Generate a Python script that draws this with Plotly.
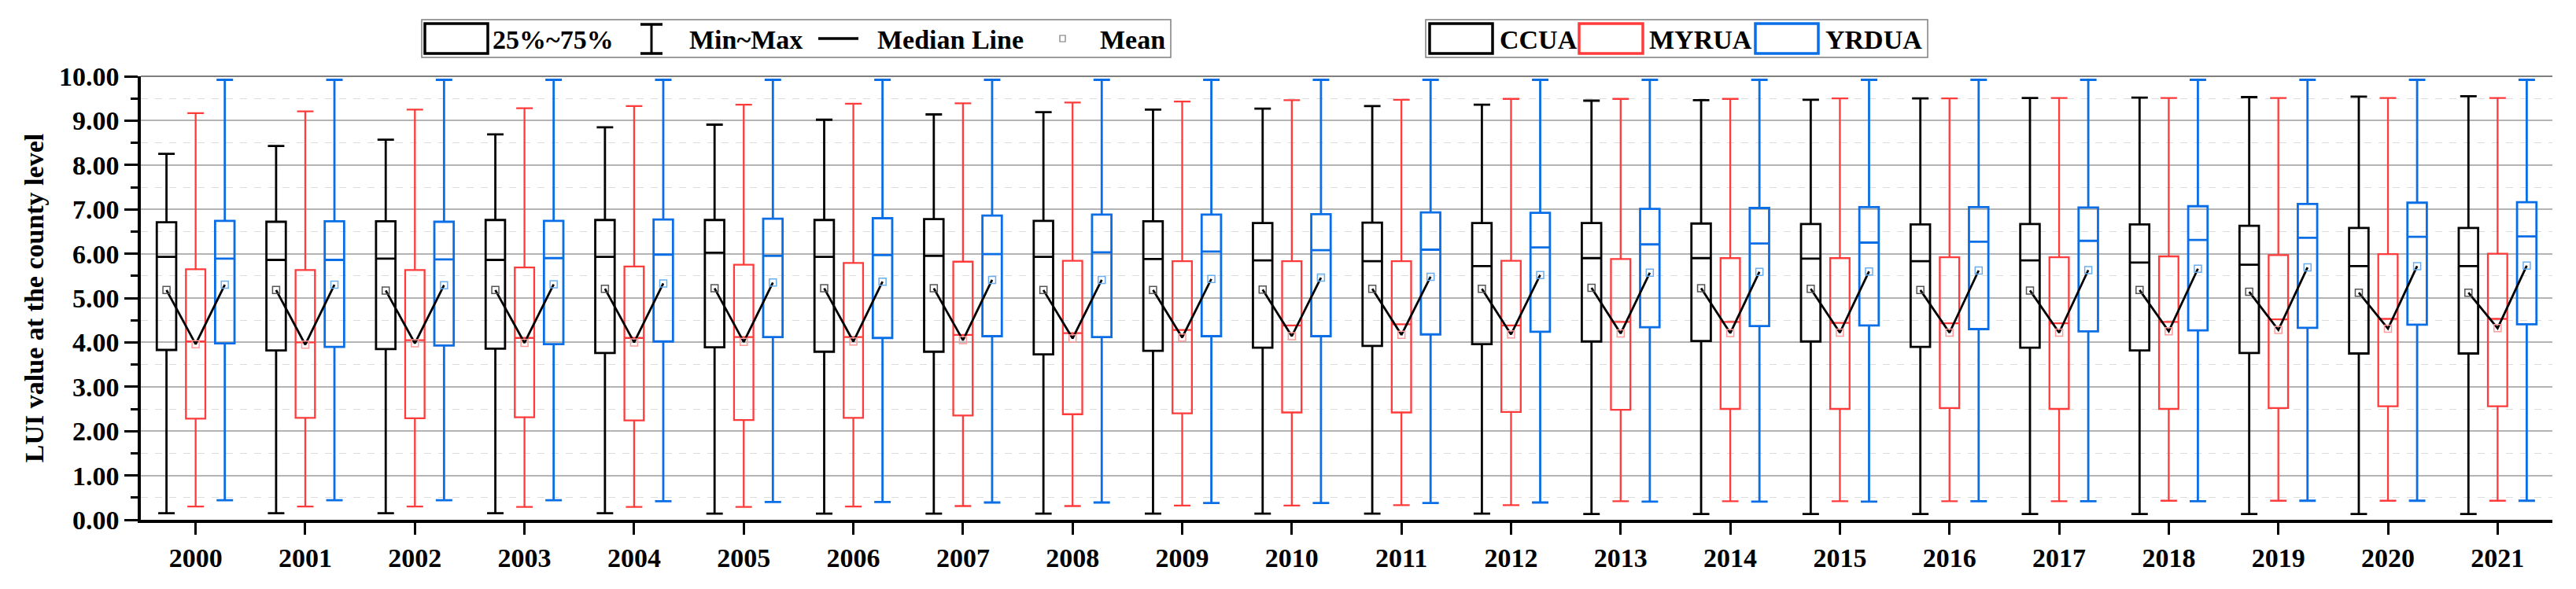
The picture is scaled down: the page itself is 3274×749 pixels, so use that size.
import plotly.graph_objects as go

years = [str(y) for y in range(2000, 2022)]
series_names = ["CCUA", "MYRUA", "YRDUA"]

ccua_max = [8.25, 8.43, 8.57, 8.69, 8.85, 8.91, 9.02, 9.14, 9.19, 9.25, 9.27, 9.33, 9.36, 9.45, 9.46, 9.47, 9.50, 9.51, 9.52, 9.53, 9.54, 9.55]
ccua_q3 = [6.71, 6.72, 6.73, 6.76, 6.76, 6.76, 6.76, 6.78, 6.74, 6.73, 6.69, 6.70, 6.69, 6.69, 6.68, 6.67, 6.66, 6.67, 6.66, 6.63, 6.58, 6.58]
ccua_med = [5.93, 5.86, 5.89, 5.86, 5.93, 6.02, 5.93, 5.95, 5.93, 5.88, 5.85, 5.83, 5.72, 5.90, 5.90, 5.89, 5.83, 5.85, 5.80, 5.75, 5.72, 5.72]
ccua_q1 = [3.83, 3.82, 3.85, 3.86, 3.76, 3.89, 3.79, 3.79, 3.73, 3.81, 3.88, 3.92, 3.96, 4.02, 4.03, 4.02, 3.90, 3.88, 3.82, 3.76, 3.75, 3.75]
ccua_min = [0.15, 0.15, 0.15, 0.15, 0.15, 0.14, 0.14, 0.14, 0.14, 0.14, 0.14, 0.14, 0.14, 0.13, 0.13, 0.13, 0.13, 0.13, 0.13, 0.13, 0.13, 0.13]
ccua_mean = [5.18, 5.18, 5.17, 5.18, 5.21, 5.22, 5.22, 5.22, 5.18, 5.18, 5.19, 5.21, 5.21, 5.23, 5.22, 5.21, 5.18, 5.17, 5.18, 5.14, 5.12, 5.12]

myrua_max = [9.17, 9.21, 9.25, 9.28, 9.33, 9.36, 9.38, 9.39, 9.41, 9.43, 9.46, 9.47, 9.49, 9.49, 9.49, 9.50, 9.50, 9.51, 9.51, 9.51, 9.51, 9.51]
myrua_q3 = [5.65, 5.63, 5.63, 5.69, 5.71, 5.75, 5.79, 5.82, 5.84, 5.83, 5.83, 5.83, 5.84, 5.88, 5.90, 5.90, 5.92, 5.92, 5.94, 5.97, 5.99, 6.00]
myrua_med = [4.02, 4.00, 4.05, 4.10, 4.10, 4.12, 4.12, 4.17, 4.21, 4.28, 4.38, 4.41, 4.38, 4.46, 4.46, 4.44, 4.43, 4.43, 4.46, 4.52, 4.53, 4.53]
myrua_q1 = [2.28, 2.30, 2.29, 2.31, 2.24, 2.25, 2.30, 2.35, 2.38, 2.40, 2.42, 2.42, 2.43, 2.48, 2.50, 2.50, 2.52, 2.50, 2.50, 2.52, 2.56, 2.56]
myrua_min = [0.30, 0.30, 0.30, 0.29, 0.29, 0.29, 0.30, 0.31, 0.31, 0.32, 0.32, 0.33, 0.33, 0.42, 0.42, 0.42, 0.42, 0.42, 0.43, 0.43, 0.43, 0.43]
myrua_mean = [3.96, 3.95, 3.98, 3.99, 4.00, 4.01, 4.02, 4.05, 4.09, 4.11, 4.14, 4.17, 4.18, 4.20, 4.21, 4.22, 4.22, 4.22, 4.25, 4.28, 4.31, 4.32]

yrdua_max = [9.92] * 22
yrdua_q3 = [6.74, 6.73, 6.72, 6.74, 6.77, 6.79, 6.80, 6.86, 6.88, 6.88, 6.89, 6.93, 6.92, 7.01, 7.03, 7.05, 7.05, 7.04, 7.07, 7.12, 7.15, 7.16]
yrdua_med = [5.89, 5.86, 5.87, 5.90, 5.98, 5.95, 5.97, 5.99, 6.03, 6.05, 6.08, 6.09, 6.14, 6.21, 6.23, 6.25, 6.27, 6.29, 6.31, 6.36, 6.38, 6.39]
yrdua_q1 = [3.98, 3.90, 3.93, 3.96, 4.02, 4.12, 4.10, 4.14, 4.12, 4.14, 4.14, 4.18, 4.24, 4.34, 4.37, 4.38, 4.30, 4.25, 4.27, 4.33, 4.40, 4.41]
yrdua_min = [0.44, 0.44, 0.44, 0.44, 0.42, 0.40, 0.40, 0.39, 0.39, 0.38, 0.38, 0.38, 0.39, 0.41, 0.41, 0.41, 0.42, 0.42, 0.42, 0.43, 0.43, 0.43]
yrdua_mean = [5.30, 5.30, 5.29, 5.31, 5.33, 5.35, 5.37, 5.41, 5.41, 5.43, 5.46, 5.48, 5.52, 5.57, 5.59, 5.60, 5.62, 5.63, 5.66, 5.69, 5.72, 5.73]

y_ticks = [f"{v:.2f}" for v in range(0, 11)]

FONT = "Liberation Serif, Times New Roman, serif"
COLORS = ["#000000", "#FF3B3B", "#0A6EE6"]
MEAN_COLORS = ["#555555", "#FF9A9A", "#6AAEF0"]
LINE_W = [2.8, 2.3, 2.8]
OFFSETS = [-0.266, 0.0, 0.266]
BOX_W = 0.177

stats = [
    (ccua_min, ccua_q1, ccua_med, ccua_q3, ccua_max, ccua_mean),
    (myrua_min, myrua_q1, myrua_med, myrua_q3, myrua_max, myrua_mean),
    (yrdua_min, yrdua_q1, yrdua_med, yrdua_q3, yrdua_max, yrdua_mean),
]

idx = list(range(len(years)))
fig = go.Figure()

for s, (lo, q1, med, q3, hi, mn) in enumerate(stats):
    xs = [i + OFFSETS[s] for i in idx]
    fig.add_trace(go.Box(
        x=xs, lowerfence=lo, q1=q1, median=med, q3=q3, upperfence=hi,
        name=series_names[s], width=BOX_W, whiskerwidth=0.85,
        line=dict(color=COLORS[s], width=LINE_W[s]),
        fillcolor="rgba(255,255,255,0)", boxpoints=False, showlegend=False,
    ))

# V lines linking the three means in each year
vx, vy = [], []
for i in idx:
    for s in range(3):
        vx.append(i + OFFSETS[s])
        vy.append(stats[s][5][i])
    vx.append(None)
    vy.append(None)
fig.add_trace(go.Scatter(x=vx, y=vy, mode="lines", line=dict(color="black", width=2.8),
                         showlegend=False, hoverinfo="skip"))

for s in range(3):
    fig.add_trace(go.Scatter(
        x=[i + OFFSETS[s] for i in idx], y=stats[s][5], mode="markers",
        marker=dict(symbol="square-open", size=9, color=MEAN_COLORS[s], line=dict(width=1.5, color=MEAN_COLORS[s])),
        showlegend=False, hoverinfo="skip"))

W, H = 3274, 749
L, R, T, B = 171, 3236, 89, 653


def px2x(px):
    return (px - L) / (R - L)


def py2y(py):
    return (B - py) / (B - T)


shapes = []
annotations = []

# top frame
shapes.append(dict(type="line", xref="paper", yref="paper", x0=0, x1=1, y0=1, y1=1,
                   line=dict(color="#7f7f7f", width=2)))


def rect(x0, y0, x1, y1, color, width):
    shapes.append(dict(type="rect", xref="paper", yref="paper", x0=px2x(x0), x1=px2x(x1),
                       y0=py2y(y1), y1=py2y(y0), line=dict(color=color, width=width),
                       fillcolor="rgba(0,0,0,0)", layer="above"))


def seg(x0, y0, x1, y1, color, width):
    shapes.append(dict(type="line", xref="paper", yref="paper", x0=px2x(x0), x1=px2x(x1),
                       y0=py2y(y0), y1=py2y(y1), line=dict(color=color, width=width)))


def label(x, y, text):
    annotations.append(dict(xref="paper", yref="paper", x=px2x(x), y=py2y(y), text=text,
                            showarrow=False, xanchor="left", yanchor="middle",
                            font=dict(family=FONT, size=34, color="black", weight="bold")))


# legend 1
rect(528, 17, 1480, 65, "#7f7f7f", 1.5)
rect(532, 22, 612, 60, "black", 3.5)
label(616, 42, "25%~75%")
seg(820, 23, 820, 60, "black", 3)
seg(806, 23, 834, 23, "black", 3.5)
seg(806, 60, 834, 60, "black", 3.5)
label(866, 42, "Min~Max")
seg(1032, 41, 1083, 41, "black", 3.5)
label(1105, 42, "Median Line")
rect(1339, 37, 1346, 45, "#777777", 1.2)
label(1388, 42, "Mean")

# legend 2
rect(1804, 17, 2442, 65, "#7f7f7f", 1.5)
for (x0, x1, tx, name, c) in [(1809, 1889, 1896, "CCUA", COLORS[0]),
                               (1999, 2080, 2086, "MYRUA", COLORS[1]),
                               (2223, 2303, 2310, "YRDUA", COLORS[2])]:
    rect(x0, 22, x1, 60, c, 3.5)
    label(tx, 42, name)

fig.update_layout(
    width=W, height=H,
    margin=dict(l=L, r=W - R, t=T, b=H - B),
    plot_bgcolor="white", paper_bgcolor="white",
    boxmode="overlay",
    font=dict(family=FONT, color="black"),
    shapes=shapes, annotations=annotations,
    xaxis=dict(
        range=[-0.5, len(years) - 0.5], tickvals=idx, ticktext=years,
        showline=True, linecolor="black", linewidth=3.5, ticks="outside", ticklen=15,
        tickwidth=3, tickcolor="black", showgrid=False, zeroline=False,
        tickfont=dict(family=FONT, size=34, color="black", weight="bold"),
    ),
    yaxis=dict(
        range=[0, 10], tickvals=list(range(0, 11)), ticktext=y_ticks,
        showline=True, linecolor="black", linewidth=3.5, ticks="outside", ticklen=17,
        tickwidth=3, tickcolor="black", zeroline=False,
        showgrid=True, gridcolor="#b4b4b4", gridwidth=1.5,
        minor=dict(dtick=0.5, tick0=0, ticks="outside", ticklen=9, tickwidth=3, tickcolor="black",
                   showgrid=True, gridcolor="#dcdcdc", gridwidth=1, griddash="dash"),
        tickfont=dict(family=FONT, size=34, color="black", weight="bold"),
        title=dict(text="LUI value at the county level", standoff=10,
                   font=dict(family=FONT, size=34, color="black", weight="bold")),
    ),
)

fig.write_html("out.html")
